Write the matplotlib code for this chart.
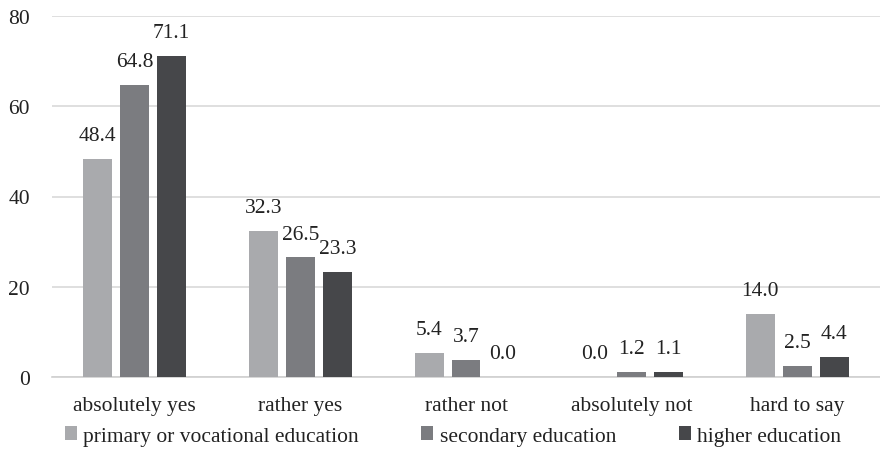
import matplotlib
matplotlib.use("Agg")
import matplotlib.pyplot as plt
import numpy as np
from matplotlib.patches import Patch

categories = ["absolutely yes", "rather yes", "rather not", "absolutely not", "hard to say"]
series_names = ["primary or vocational education", "secondary education", "higher education"]
primary = [48.4, 32.3, 5.4, 0.0, 14.0]
secondary = [64.8, 26.5, 3.7, 1.2, 2.5]
higher = [71.1, 23.3, 0.0, 1.1, 4.4]
colors = ["#A9AAAD", "#7B7C80", "#46474A"]

plt.rcParams['font.family'] = ['Liberation Serif', 'DejaVu Serif']
fs = 15.5

fig = plt.figure(figsize=(8.8, 4.52), dpi=100)
ax = fig.add_axes([52/880, 1-378/452, 828/880, 361/452])

x = np.arange(len(categories))
bw = 0.175
step = 0.223
for i, (vals, c) in enumerate(zip([primary, secondary, higher], colors)):
    pos = x + (i - 1) * step
    ax.bar(pos, vals, width=bw, color=c, zorder=3)
    for p, v in zip(pos, vals):
        ax.annotate(f"{v:.1f}", (p, v), xytext=(0, 10), textcoords="offset points",
                    ha="center", va="bottom", fontsize=fs, color="#222222")

ax.set_xlim(-0.5, len(categories) - 0.5)
ax.set_ylim(0, 80)
ax.set_yticks([0, 20, 40, 60, 80])
ax.yaxis.grid(True, color="#D9D9D9", linewidth=1.2, zorder=0)
ax.set_axisbelow(True)
for s in ["top", "right", "left"]:
    ax.spines[s].set_visible(False)
ax.spines["bottom"].set_color("#D0D0D0")
ax.spines["bottom"].set_linewidth(1.2)
ax.tick_params(axis="both", length=0, labelsize=fs, colors="#222222")
ax.tick_params(axis="y", pad=16)
ax.set_xticks(x)
ax.set_xticklabels(categories)
ax.tick_params(axis="x", pad=14)

handles = [Patch(facecolor=c, edgecolor="none") for c in colors]
fig.legend(handles, series_names, loc="center", bbox_to_anchor=(453/880, 1-437/452),
           ncol=3, frameon=False, fontsize=fs, handlelength=0.56, handleheight=0.56,
           handletextpad=0.3, columnspacing=2.9, labelcolor="#222222")

fig.savefig("out.png", dpi=100)
